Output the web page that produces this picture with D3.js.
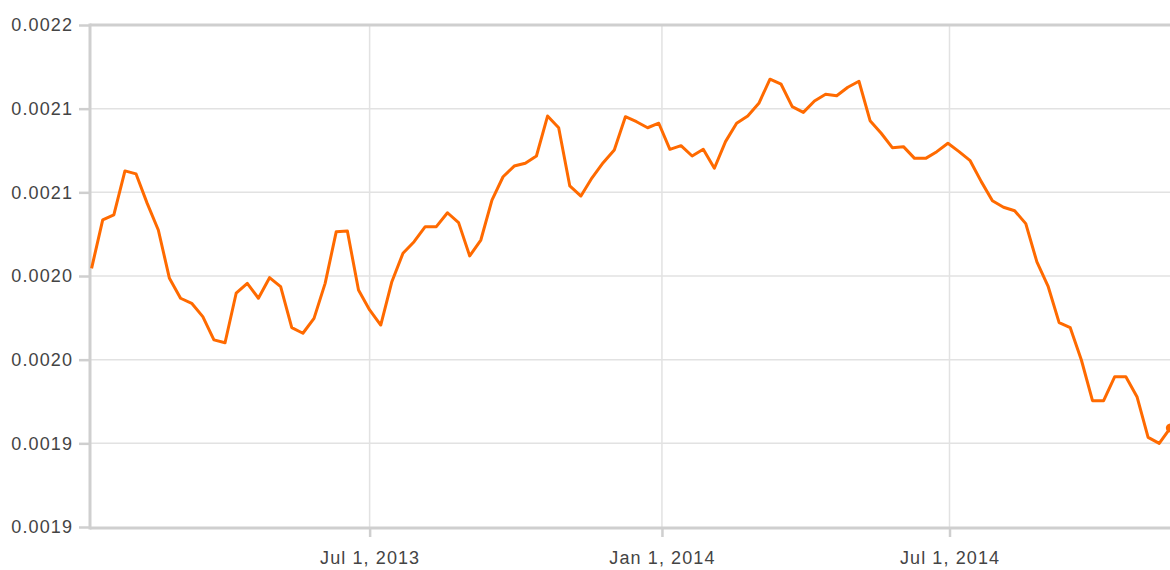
<!DOCTYPE html>
<html>
<head>
<meta charset="utf-8">
<script src="https://cdn.jsdelivr.net/npm/d3@7"></script>
<style>
  body { margin: 0; background: #fff; }
  text { font-family: "Liberation Sans", Arial, sans-serif; }
</style>
</head>
<body>
<div id="chart"></div>
<script>

// weekly values, first week starts Mon Jan 7 2013
var firstWeek = new Date(2013, 0, 7);
var values = [
  0.0020546, 0.0020835, 0.0020865, 0.0021128, 0.0021110, 0.0020934, 0.0020775, 0.0020486,
  0.0020367, 0.0020337, 0.0020257, 0.0020118, 0.0020101, 0.0020397, 0.0020456, 0.0020367,
  0.0020490, 0.0020436, 0.0020191, 0.0020158, 0.0020247, 0.0020456, 0.0020765, 0.0020769,
  0.0020416, 0.0020297, 0.0020207, 0.0020466, 0.0020636, 0.0020705, 0.0020795, 0.0020795,
  0.0020878, 0.0020819, 0.0020620, 0.0020715, 0.0020954, 0.0021093, 0.0021157, 0.0021174,
  0.0021217, 0.0021456, 0.0021386, 0.0021038, 0.0020978, 0.0021087, 0.0021177, 0.0021253,
  0.0021452, 0.0021422, 0.0021386, 0.0021413, 0.0021257, 0.0021279, 0.0021217, 0.0021257,
  0.0021144, 0.0021303, 0.0021413, 0.0021456, 0.0021532, 0.0021676, 0.0021646, 0.0021512,
  0.0021478, 0.0021546, 0.0021586, 0.0021577, 0.0021628, 0.0021664, 0.0021428, 0.0021353,
  0.0021267, 0.0021273, 0.0021203, 0.0021203, 0.0021243, 0.0021293, 0.0021243, 0.0021189,
  0.0021064, 0.0020950, 0.0020911, 0.0020890, 0.0020813, 0.0020584, 0.0020440, 0.0020221,
  0.0020191, 0.0019998, 0.0019755, 0.0019755, 0.0019898, 0.0019898, 0.0019779, 0.0019536,
  0.0019500, 0.0019592
];

var yTicks = [0.0022, 0.00215, 0.0021, 0.00205, 0.002, 0.00195, 0.0019];
var yTickLabels = ["0.0022", "0.0021", "0.0021", "0.0020", "0.0020", "0.0019", "0.0019"];
var xTicks = [new Date(2013, 6, 1), new Date(2014, 0, 1), new Date(2014, 6, 1)];
var xTickLabels = ["Jul 1, 2013", "Jan 1, 2014", "Jul 1, 2014"];

var data = values.map(function(v, i) {
  return { date: d3.timeDay.offset(firstWeek, 7 * i), value: v };
});

var width = 1170, height = 570;
var plotLeft = 90, plotTop = 25, plotBottom = 527;

var svg = d3.select("#chart")
  .append("svg")
    .attr("width", width)
    .attr("height", height)
    .style("display", "block");

// plot runs on past the right edge of the window
var x = d3.scaleTime()
  .domain([new Date(2013, 0, 6), d3.timeDay.offset(new Date(2013, 0, 6), 693)])
  .range([plotLeft, 1191]);

var y = d3.scaleLinear()
  .domain([0.0019, 0.0022])
  .range([plotBottom, plotTop]);

// gridlines
svg.append("g")
  .selectAll("line")
  .data(yTicks.slice(1, -1))
  .enter().append("line")
    .attr("x1", plotLeft).attr("x2", width + 20)
    .attr("y1", function(d) { return y(d); })
    .attr("y2", function(d) { return y(d); })
    .style("stroke", "#e2e2e2")
    .style("stroke-width", 1.5);

svg.append("g")
  .selectAll("line")
  .data(xTicks)
  .enter().append("line")
    .attr("x1", function(d) { return x(d); })
    .attr("x2", function(d) { return x(d); })
    .attr("y1", plotTop).attr("y2", plotBottom)
    .style("stroke", "#e2e2e2")
    .style("stroke-width", 1.5);

// top frame line
svg.append("line")
  .attr("x1", plotLeft).attr("x2", width + 20)
  .attr("y1", y(0.0022)).attr("y2", y(0.0022))
  .style("stroke", "#cfcfcf").style("stroke-width", 3);

// Y axis
var yAxis = svg.append("g")
  .attr("transform", "translate(" + plotLeft + ",0)")
  .call(d3.axisLeft(y)
    .tickValues(yTicks)
    .tickSize(11)
    .tickPadding(6)
    .tickFormat(function(d, i) { return yTickLabels[i]; }));

// X axis
var xAxis = svg.append("g")
  .attr("transform", "translate(0," + plotBottom + ")")
  .call(d3.axisBottom(x)
    .tickValues(xTicks)
    .tickSize(10)
    .tickPadding(14)
    .tickFormat(function(d, i) { return xTickLabels[i]; }));

[yAxis, xAxis].forEach(function(ax) {
  ax.select(".domain").remove();
  ax.selectAll(".tick line").style("stroke", "#cfcfcf").style("stroke-width", 2.5);
  ax.selectAll(".tick text")
    .style("fill", "#444")
    .style("font-size", "18px")
    .style("letter-spacing", "1.1px");
});
xAxis.selectAll(".tick line").attr("y1", 1);

svg.append("line")
  .attr("x1", plotLeft).attr("x2", width + 20)
  .attr("y1", plotBottom + 1).attr("y2", plotBottom + 1)
  .style("stroke", "#cfcfcf").style("stroke-width", 3);

svg.append("line")
  .attr("x1", plotLeft).attr("x2", plotLeft)
  .attr("y1", plotTop - 1.5).attr("y2", plotBottom + 2.5)
  .style("stroke", "#cfcfcf").style("stroke-width", 3);

// the line
var line = d3.line()
  .x(function(d) { return x(d.date); })
  .y(function(d) { return y(d.value); });

svg.append("path")
  .datum(data)
  .attr("d", line)
  .style("fill", "none")
  .style("stroke", "#ff6a00")
  .style("stroke-width", 3)
  .style("stroke-linejoin", "round");

// hover marker on last point
var last = data[data.length - 1];
svg.append("circle")
  .attr("cx", x(last.date))
  .attr("cy", y(last.value))
  .attr("r", 4.5)
  .style("fill", "#ff6a00");

</script>
</body>
</html>
